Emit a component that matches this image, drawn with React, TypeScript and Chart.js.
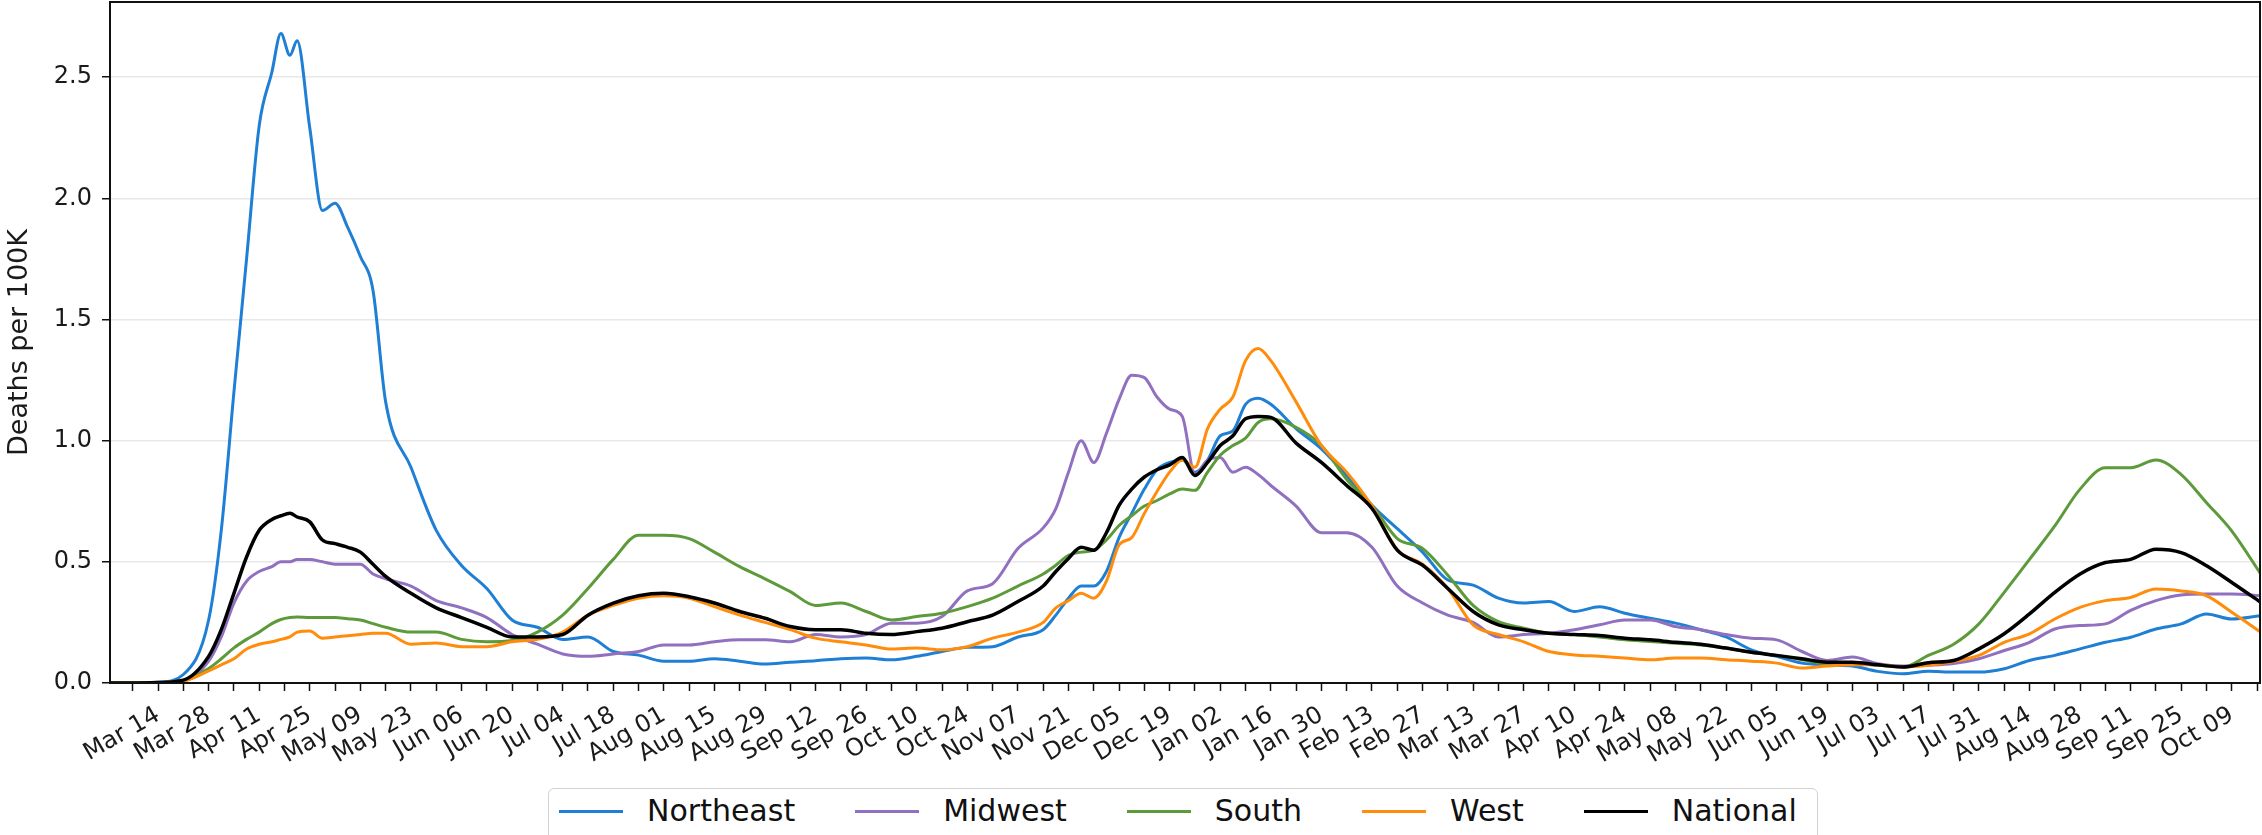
import { useEffect, useRef } from 'react';
import { Chart, registerables } from 'chart.js';

Chart.register(...registerables);

// x positions: days since 2020-03-14
const days = [
  -13, -7, 0, 7, 14, 17.5, 21, 24.5, 28, 31.5,
  34, 36.5, 38.5, 42, 45.5, 49, 52.5, 56, 59.5, 63,
  70, 77, 84, 91, 98, 105, 112, 119, 126, 133,
  140, 147, 154, 161, 168, 175, 182, 189, 196, 203,
  210, 217, 224, 231, 238, 245, 248.5, 252, 255.5, 259,
  262.5, 266, 269.5, 273, 276.5, 280, 283.5, 287, 290.5, 294,
  297.5, 301, 304.5, 308, 315, 322, 329, 336, 343, 350,
  357, 364, 371, 378, 385, 392, 399, 406, 413, 420,
  427, 434, 441, 448, 455, 462, 469, 476, 483, 490,
  497, 504, 511, 518, 525, 532, 539, 546, 553, 560,
  567, 574, 582,
];

const northeast = [
  0, 0, 0.003, 0.035, 0.26, 0.63, 1.2, 1.75, 2.3, 2.52,
  2.68, 2.59, 2.65, 2.29, 1.95, 1.98, 1.88, 1.76, 1.62, 1.16,
  0.89, 0.63, 0.485, 0.39, 0.26, 0.23, 0.18, 0.19, 0.13, 0.115,
  0.09, 0.09, 0.1, 0.09, 0.078, 0.086, 0.092, 0.1, 0.103, 0.096,
  0.11, 0.13, 0.147, 0.15, 0.19, 0.22, 0.28, 0.35, 0.4, 0.4,
  0.46, 0.6, 0.7, 0.8, 0.88, 0.91, 0.92, 0.87, 0.92, 1.02,
  1.04, 1.15, 1.175, 1.15, 1.05, 0.966, 0.856, 0.733, 0.637, 0.54,
  0.425, 0.404, 0.35, 0.33, 0.336, 0.295, 0.315, 0.288, 0.267, 0.247,
  0.22, 0.19, 0.137, 0.11, 0.082, 0.075, 0.07, 0.048, 0.038, 0.048,
  0.045, 0.045, 0.059, 0.093, 0.114, 0.141, 0.168, 0.189, 0.223, 0.244,
  0.285, 0.264, 0.278,
];

const midwest = [
  0, 0, 0.002, 0.008, 0.09, 0.19, 0.33, 0.42, 0.46, 0.48,
  0.5, 0.5, 0.51, 0.51, 0.5, 0.49, 0.49, 0.49, 0.45, 0.43,
  0.4, 0.34, 0.31, 0.27, 0.2, 0.16, 0.12, 0.11, 0.12, 0.13,
  0.157, 0.157, 0.17, 0.178, 0.178, 0.17, 0.2, 0.19, 0.2, 0.247,
  0.247, 0.274, 0.38, 0.41, 0.555, 0.64, 0.72, 0.87, 1.0, 0.91,
  1.03, 1.17, 1.27, 1.26, 1.18, 1.13, 1.1, 0.86, 0.92, 0.93,
  0.87, 0.89, 0.86, 0.815, 0.73, 0.62, 0.62, 0.56, 0.4, 0.33,
  0.28, 0.25, 0.19, 0.2, 0.205, 0.22, 0.24, 0.26, 0.26, 0.233,
  0.22, 0.2, 0.185, 0.178, 0.13, 0.093, 0.107, 0.08, 0.07, 0.073,
  0.08, 0.1, 0.134, 0.168, 0.223, 0.237, 0.244, 0.3, 0.34, 0.363,
  0.367, 0.367, 0.36,
];

const south = [
  0, 0, 0.002, 0.008, 0.06, 0.1, 0.145, 0.18, 0.21, 0.245,
  0.262, 0.27, 0.272, 0.27, 0.27, 0.27, 0.265, 0.26, 0.245, 0.23,
  0.21, 0.21, 0.18, 0.17, 0.175, 0.21, 0.28, 0.39, 0.51, 0.61,
  0.61, 0.596, 0.54, 0.48, 0.43, 0.377, 0.32, 0.33, 0.295, 0.26,
  0.274, 0.288, 0.315, 0.35, 0.4, 0.45, 0.486, 0.527, 0.54, 0.548,
  0.59, 0.65, 0.69, 0.73, 0.753, 0.78, 0.8, 0.795, 0.87, 0.94,
  0.98, 1.01, 1.075, 1.09, 1.055, 0.98, 0.84, 0.733, 0.596, 0.555,
  0.445, 0.32, 0.253, 0.226, 0.205, 0.2, 0.19, 0.178, 0.171, 0.164,
  0.157, 0.144, 0.127, 0.114, 0.096, 0.08, 0.08, 0.073, 0.066, 0.114,
  0.16, 0.244, 0.374, 0.51, 0.648, 0.8, 0.888, 0.888, 0.92, 0.86,
  0.744, 0.627, 0.45,
];

const west = [
  0, 0, 0.002, 0.008, 0.05, 0.075, 0.1, 0.14, 0.16, 0.17,
  0.18, 0.19, 0.21, 0.215, 0.185, 0.19, 0.195, 0.2, 0.205, 0.205,
  0.16, 0.165, 0.15, 0.15, 0.17, 0.18, 0.21, 0.28, 0.32, 0.35,
  0.36, 0.35, 0.315, 0.28, 0.25, 0.22, 0.185, 0.17, 0.157, 0.14,
  0.144, 0.137, 0.15, 0.185, 0.21, 0.25, 0.31, 0.34, 0.37, 0.35,
  0.42, 0.57, 0.6, 0.7, 0.79, 0.87, 0.92, 0.89, 1.05, 1.13,
  1.18, 1.33, 1.38, 1.33, 1.16, 0.98, 0.87, 0.73, 0.55, 0.49,
  0.39, 0.24, 0.2, 0.17, 0.13, 0.116, 0.11, 0.103, 0.096, 0.103,
  0.103, 0.096, 0.09, 0.082, 0.062, 0.07, 0.075, 0.075, 0.066, 0.073,
  0.089, 0.114, 0.168, 0.203, 0.264, 0.312, 0.34, 0.353, 0.388, 0.38,
  0.36, 0.292, 0.21,
];

const national = [
  0, 0, 0.002, 0.012, 0.11, 0.22, 0.37, 0.52, 0.63, 0.675,
  0.69, 0.7, 0.685, 0.665, 0.59, 0.575, 0.56, 0.54, 0.49, 0.44,
  0.37, 0.31, 0.27, 0.23, 0.19, 0.19, 0.2, 0.28, 0.33, 0.36,
  0.37, 0.356, 0.33, 0.295, 0.267, 0.233, 0.22, 0.22, 0.205, 0.2,
  0.212, 0.226, 0.253, 0.28, 0.336, 0.4, 0.46, 0.514, 0.56, 0.548,
  0.62, 0.733, 0.8, 0.85, 0.88, 0.9, 0.93, 0.856, 0.91, 0.98,
  1.02, 1.09, 1.1, 1.096, 0.99, 0.91, 0.815, 0.72, 0.548, 0.486,
  0.39, 0.295, 0.24, 0.22, 0.205, 0.2, 0.196, 0.185, 0.178, 0.168,
  0.16, 0.144, 0.127, 0.114, 0.1, 0.086, 0.086, 0.075, 0.066, 0.084,
  0.093, 0.141, 0.203, 0.285, 0.374, 0.45, 0.497, 0.51, 0.552, 0.538,
  0.484, 0.415, 0.333,
];

// labels every 14 days starting at day 0 (Mar 14, 2020)
const tickLabels = [
  'Mar 14', 'Mar 28', 'Apr 11', 'Apr 25', 'May 09', 'May 23', 'Jun 06', 'Jun 20',
  'Jul 04', 'Jul 18', 'Aug 01', 'Aug 15', 'Aug 29', 'Sep 12', 'Sep 26', 'Oct 10',
  'Oct 24', 'Nov 07', 'Nov 21', 'Dec 05', 'Dec 19', 'Jan 02', 'Jan 16', 'Jan 30',
  'Feb 13', 'Feb 27', 'Mar 13', 'Mar 27', 'Apr 10', 'Apr 24', 'May 08', 'May 22',
  'Jun 05', 'Jun 19', 'Jul 03', 'Jul 17', 'Jul 31', 'Aug 14', 'Aug 28', 'Sep 11',
  'Sep 25', 'Oct 09',
];
const tickDays = Array.from({ length: 85 }, (_, i) => -7 + 7 * i);
const yTicks = [0, 0.5, 1, 1.5, 2, 2.5];

const seriesDefs = [
  { label: 'Northeast', data: northeast, color: '#1f7fd4', width: 3 },
  { label: 'Midwest', data: midwest, color: '#9170c0', width: 3 },
  { label: 'South', data: south, color: '#5c9a3a', width: 3 },
  { label: 'West', data: west, color: '#ff8c0a', width: 3 },
  { label: 'National', data: national, color: '#000000', width: 3.5 },
];

const FONT = 'DejaVu Sans';

const framePlugin = {
  id: 'frame',
  afterDraw(chart: any) {
    const { ctx, chartArea } = chart;
    ctx.save();
    ctx.strokeStyle = '#111';
    ctx.lineWidth = 2;
    ctx.strokeRect(chartArea.left, chartArea.top, chartArea.right - chartArea.left, chartArea.bottom - chartArea.top);
    ctx.restore();
  },
};

export default function App() {
  const ref = useRef<HTMLCanvasElement | null>(null);

  useEffect(() => {
    document.body.style.margin = '0';
    const canvas = ref.current;
    if (!canvas) return;
    // draw National on top: Chart.js draws index 0 last
    const ordered = [...seriesDefs].reverse();
    const chart = new Chart(canvas, {
      type: 'line',
      data: {
        datasets: ordered.map((s) => ({
          label: s.label,
          data: days.map((d, i) => ({ x: d, y: s.data[i] })),
          borderColor: s.color,
          backgroundColor: s.color,
          borderWidth: s.width,
          pointRadius: 0,
          fill: false,
          cubicInterpolationMode: 'monotone' as const,
        })),
      },
      options: {
        animation: false,
        responsive: false,
        devicePixelRatio: 1,
        layout: { padding: { top: 2, right: 2, left: 0, bottom: 0 } },
        plugins: { legend: { display: false }, tooltip: { enabled: false } },
        elements: { line: { borderJoinStyle: 'round', borderCapStyle: 'round' } },
        scales: {
          x: {
            type: 'linear',
            min: -13.3,
            max: 581.8,
            afterBuildTicks: (s: any) => {
              s.ticks = tickDays.map((v) => ({ value: v }));
            },
            afterFit: (s: any) => {
              s.height = 152;
              s.paddingLeft = 0;
              s.paddingRight = 0;
            },
            ticks: {
              autoSkip: false,
              minRotation: 30,
              maxRotation: 30,
              padding: 10,
              color: '#1a1a1a',
              font: { family: FONT, size: 24 },
              callback: (v: any) => (Number(v) % 14 === 0 ? tickLabels[Number(v) / 14] : ''),
            },
            grid: { drawOnChartArea: false, drawTicks: true, tickLength: 8, tickColor: '#111', tickWidth: 1.5 },
            border: { display: true, color: '#111', width: 2 },
          },
          y: {
            type: 'linear',
            min: 0,
            max: 2.81,
            afterBuildTicks: (s: any) => {
              s.ticks = yTicks.map((v) => ({ value: v }));
            },
            afterFit: (s: any) => {
              s.width = 110;
              s.paddingTop = 0;
              s.paddingBottom = 0;
            },
            ticks: {
              padding: 10,
              color: '#1a1a1a',
              font: { family: FONT, size: 24 },
              callback: (v: any) => Number(v).toFixed(1),
            },
            grid: { color: '#e8e8e8', lineWidth: 1.5, tickColor: '#111', tickLength: 8, tickWidth: 1.5 },
            border: { display: true, color: '#111', width: 2 },
            title: {
              display: true,
              text: 'Deaths per 100K',
              color: '#1a1a1a',
              font: { family: FONT, size: 27 },
              padding: { top: 4, bottom: 4 },
            },
          },
        },
      },
      plugins: [framePlugin],
    } as any);
    return () => chart.destroy();
  }, []);

  return (
    <div style={{ position: 'relative', width: 2262, height: 835, overflow: 'hidden', background: '#fff' }}>
      <canvas ref={ref} width={2262} height={835} style={{ display: 'block', width: 2262, height: 835 }} />
      <div
        style={{
          position: 'absolute',
          left: 548,
          top: 788,
          display: 'flex',
          alignItems: 'center',
          padding: '4px 20px 24px 10px',
          border: '1.5px solid #d2d2d2',
          borderRadius: 6,
          background: '#fff',
          fontFamily: FONT,
          fontSize: 30,
          lineHeight: '36px',
          color: '#111',
          whiteSpace: 'nowrap',
        }}
      >
        {seriesDefs.map((s, i) => (
          <div key={s.label} style={{ display: 'flex', alignItems: 'center', marginRight: i < seriesDefs.length - 1 ? 60 : 0 }}>
            <span style={{ display: 'inline-block', width: 64, height: 3, background: s.color, marginRight: 24 }} />
            <span>{s.label}</span>
          </div>
        ))}
      </div>
    </div>
  );
}
